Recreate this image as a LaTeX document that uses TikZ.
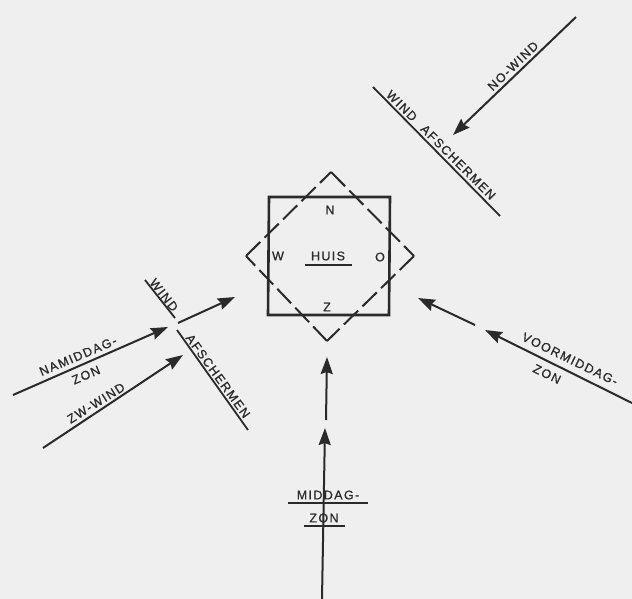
\documentclass[tikz,border=0pt]{standalone}
\usepackage{fontspec}
\setmainfont{Liberation Sans}
\newfontfamily\spaced[LetterSpace=11,FakeBold=0.8]{Liberation Sans}
\usetikzlibrary{arrows.meta}
\definecolor{ink}{HTML}{2A2A2A}
\definecolor{paper}{HTML}{EFEFEF}
\tikzset{
  wall/.style={draw=ink,line width=2.6pt,line join=miter},
  dashwall/.style={draw=ink,line width=2pt,dash pattern=on 20pt off 6pt},
  ray/.style={draw=ink,line width=2pt,-{Stealth[length=17pt,width=12pt,inset=2pt]}},
  rule/.style={draw=ink,line width=1.8pt},
  thinrule/.style={draw=ink,line width=1.5pt},
  lab/.style={text=ink,font=\fontsize{12.5}{14}\selectfont\spaced,inner sep=0pt},
}
\begin{document}
\begin{tikzpicture}[x=1pt,y=-1pt]
\useasboundingbox[fill=paper] (0,0) rectangle (632,599);
% house
\coordinate (sqa) at (269,197); \coordinate (sqb) at (390,197);
\coordinate (sqc) at (389,315); \coordinate (sqd) at (268,315);
\draw[wall] (sqa) -- (sqb) -- (sqc) -- (sqd) -- cycle;
\coordinate (dit) at (331,172); \coordinate (dir) at (414,256);
\coordinate (dib) at (327,341); \coordinate (dil) at (246,256);
\draw[dashwall] (dit) -- (dir);
\draw[dashwall] (dir) -- (dib);
\draw[dashwall] (dib) -- (dil);
\draw[dashwall] (dil) -- (dit);
\node[lab] (n) at (330,210) {N};
\node[lab] (w) at (278,256) {W};
\node[lab] (huis) at (328,256) {HUIS};
\node[lab] (o) at (380,257) {O};
\node[lab] (z) at (327,307) {Z};
\coordinate (hua) at (305,265); \coordinate (hub) at (352,265);
\draw[thinrule] (hua) -- (hub);
% NO wind
\coordinate (noa) at (576,17); \coordinate (nob) at (453,135);
\draw[ray] (noa) -- (nob);
\node[lab,rotate=44] (nol) at (513,66) {NO-WIND};
\coordinate (sca) at (373,87); \coordinate (scb) at (500,216);
\draw[rule] (sca) -- (scb);
\node[lab,rotate=-45] (scl) at (441,145) {WIND\hspace{11pt}AFSCHERMEN};
% left screen
\coordinate (lsa) at (145,280); \coordinate (lsb) at (175,318);
\coordinate (lsc) at (177,330); \coordinate (lsd) at (248,430);
\draw[rule] (lsa) -- (lsb);
\draw[rule] (lsc) -- (lsd);
\node[lab,rotate=-52] (lw) at (164,295) {WIND};
\node[lab,rotate=-54] (la) at (218,376) {AFSCHERMEN};
% namiddag
\coordinate (naa) at (13,395); \coordinate (nab) at (168,327);
\coordinate (nac) at (178,323); \coordinate (nad) at (235,297);
\draw[ray] (naa) -- (nab);
\draw[ray] (nac) -- (nad);
\node[lab,rotate=23] (nal) at (78,356) {NAMIDDAG-};
\node[lab,rotate=23] (naz) at (86,375) {ZON};
% zw wind
\coordinate (zwa) at (43,448); \coordinate (zwb) at (183,355);
\draw[ray] (zwa) -- (zwb);
\node[lab,rotate=32] (zwl) at (96,403) {ZW-WIND};
% voormiddag
\coordinate (voa) at (632,403); \coordinate (vob) at (485,330);
\coordinate (voc) at (475,325); \coordinate (vod) at (418,298);
\draw[ray] (voa) -- (vob);
\draw[ray] (voc) -- (vod);
\node[lab,rotate=-26] (vol) at (570,359) {VOORMIDDAG-};
\node[lab,rotate=-26] (voz) at (547,374) {ZON};
% middag
\coordinate (mia) at (322,599); \coordinate (mib) at (325,428);
\coordinate (mic) at (326,420); \coordinate (mid) at (327,357);
\draw[ray] (mia) -- (mib);
\draw[ray] (mic) -- (mid);
\node[lab] (mil) at (328,495) {MIDDAG-};
\node[lab] (miz) at (324,518) {ZON};
\coordinate (mra) at (288,503); \coordinate (mrb) at (368,503);
\coordinate (mrc) at (304,526); \coordinate (mrd) at (345,526);
\draw[thinrule] (mra) -- (mrb);
\draw[thinrule] (mrc) -- (mrd);
\end{tikzpicture}
\end{document}
